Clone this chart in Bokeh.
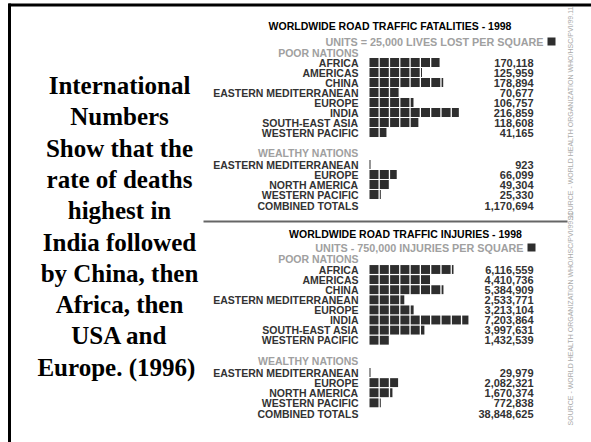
import math
from bokeh.plotting import figure
from bokeh.models import Range1d
from bokeh.core.properties import value
from bokeh.embed import file_html
from bokeh.resources import INLINE

# ---------------- data ----------------
poor_regions = ["AFRICA", "AMERICAS", "CHINA", "EASTERN MEDITERRANEAN",
                "EUROPE", "INDIA", "SOUTH-EAST ASIA", "WESTERN PACIFIC"]
wealthy_regions = ["EASTERN MEDITERRANEAN", "EUROPE", "NORTH AMERICA", "WESTERN PACIFIC"]

fat_title = "WORLDWIDE ROAD TRAFFIC FATALITIES - 1998"
fat_units_label = "UNITS = 25,000 LIVES LOST PER SQUARE"
fat_unit = 25000
fat_poor = [170118, 125959, 178894, 70677, 106757, 216859, 118608, 41165]
fat_wealthy = [923, 66099, 49304, 25330]
fat_total = 1170694

inj_title = "WORLDWIDE ROAD TRAFFIC INJURIES - 1998"
inj_units_label = "UNITS - 750,000 INJURIES PER SQUARE"
inj_unit = 750000
inj_poor = [6116559, 4410736, 5384909, 2533771, 3213104, 7203864, 3997631, 1432539]
inj_wealthy = [29979, 2082321, 1670374, 772838]
inj_total = 38848625

source_note = "SOURCE - WORLD HEALTH ORGANIZATION WHO/HSC/PVI/99.11"
left_lines = ["International", "Numbers", "Show that the", "rate of deaths",
              "highest in", "India followed", "by China, then", "Africa, then",
              "USA and", "Europe.  (1996)"]

# ---------------- layout / style ----------------
W, H = 591, 442
BAR_X0 = 369          # where bars start (px)
SQ_PX = 10.3          # px per unit square
LABEL_X = 358
VALUE_X = 533
DARK = "#2e2e2e"
TXT = "#333333"
GRAY = "#a0a0a0"
SANS = value("Liberation Sans")

p = figure(width=W, height=H, x_range=Range1d(0, W), y_range=Range1d(H, 0),
           output_backend="svg", toolbar_location=None, min_border=0,
           x_axis_location=None, y_axis_location=None,
           outline_line_color=None, background_fill_color="white",
           border_fill_color="white")
p.xgrid.visible = False
p.ygrid.visible = False

# slide frame
p.segment(x0=[8, 9], y0=[4.5, 3], x1=[W, 9], y1=[4.5, H], line_color="black", line_width=3)

# left text
p.text(x=[119] * len(left_lines), y=[85 + 31.3 * k for k in range(len(left_lines))],
       text=left_lines, text_align="center", text_baseline="middle",
       text_font=value("Liberation Serif"), text_font_style="bold",
       text_font_size="25px", text_color="black")


def add_chart(key, top_px, row_px, unit, poor, wealthy, total, title, title_xy,
              units_label, units_xy):
    xr, yr = key + "_x", key + "_y"
    p.extra_x_ranges[xr] = Range1d(-BAR_X0 * unit / SQ_PX, (W - BAR_X0) * unit / SQ_PX)
    p.extra_y_ranges[yr] = Range1d((H - top_px) / row_px, -top_px / row_px)

    poor_rows = list(range(len(poor)))
    wealthy_rows = [10.2 + i for i in range(len(wealthy))]
    rows = poor_rows + wealthy_rows
    vals = poor + wealthy

    gap = 1.3 * unit / SQ_PX
    minw = 1.0 * unit / SQ_PX
    L, R, T, B = [], [], [], []
    for r, v in zip(rows, vals):
        n = math.ceil(v / unit)
        for k in range(n):
            left = k * unit
            right = min((k + 1) * unit - gap, v)
            if right - left < minw:
                right = left + minw
            L.append(left); R.append(right); T.append(r - 0.44); B.append(r + 0.44)
    p.quad(left=L, right=R, top=T, bottom=B, fill_color=DARK, line_color=None,
           x_range_name=xr, y_range_name=yr)

    labels = poor_regions + wealthy_regions + ["COMBINED TOTALS"]
    lrows = rows + [14.3]
    p.text(x=[LABEL_X] * len(labels), y=lrows, text=labels, y_range_name=yr,
           text_align="right", text_baseline="middle", text_font=SANS,
           text_font_style="bold", text_font_size="10.5px", text_color=TXT)
    nums = [f"{v:,}" for v in vals + [total]]
    p.text(x=[VALUE_X] * len(nums), y=lrows, text=nums, y_range_name=yr,
           text_align="right", text_baseline="middle", text_font=SANS,
           text_font_style="bold", text_font_size="11px", text_color=TXT)
    p.text(x=[LABEL_X, LABEL_X], y=[-1, 9.05], text=["POOR NATIONS", "WEALTHY NATIONS"],
           y_range_name=yr, text_align="right", text_baseline="middle", text_font=SANS,
           text_font_style="bold", text_font_size="10.5px", text_color=GRAY)
    p.text(x=[title_xy[0]], y=[title_xy[1]], text=[title], text_align="center",
           text_baseline="middle", text_font=SANS, text_font_style="bold",
           text_font_size="10.5px", text_color="black")
    p.text(x=[units_xy[0]], y=[units_xy[1]], text=[units_label], text_align="right",
           text_baseline="middle", text_font=SANS, text_font_style="bold",
           text_font_size="10.8px", text_color=GRAY)
    p.quad(left=[units_xy[0] + 4], right=[units_xy[0] + 12], top=[units_xy[1] - 4],
           bottom=[units_xy[1] + 4], fill_color=DARK, line_color=None)


add_chart("fat", 62, 10.0, fat_unit, fat_poor, fat_wealthy, fat_total,
          fat_title, (389.5, 25), fat_units_label, (543, 41))
add_chart("inj", 269, 10.1, inj_unit, inj_poor, inj_wealthy, inj_total,
          inj_title, (405, 233), inj_units_label, (523, 247))

# separator
p.segment(x0=[203], y0=[221], x1=[567], y1=[221], line_color="#666666", line_width=2)

# vertical source notes
p.text(x=[570, 570], y=[113, 318], text=[source_note, source_note], angle=math.pi / 2,
       text_align="center", text_baseline="middle", text_font=SANS,
       text_font_size="7px", text_color="#aaaaaa")

open("out.html", "w").write(file_html(p, INLINE))
